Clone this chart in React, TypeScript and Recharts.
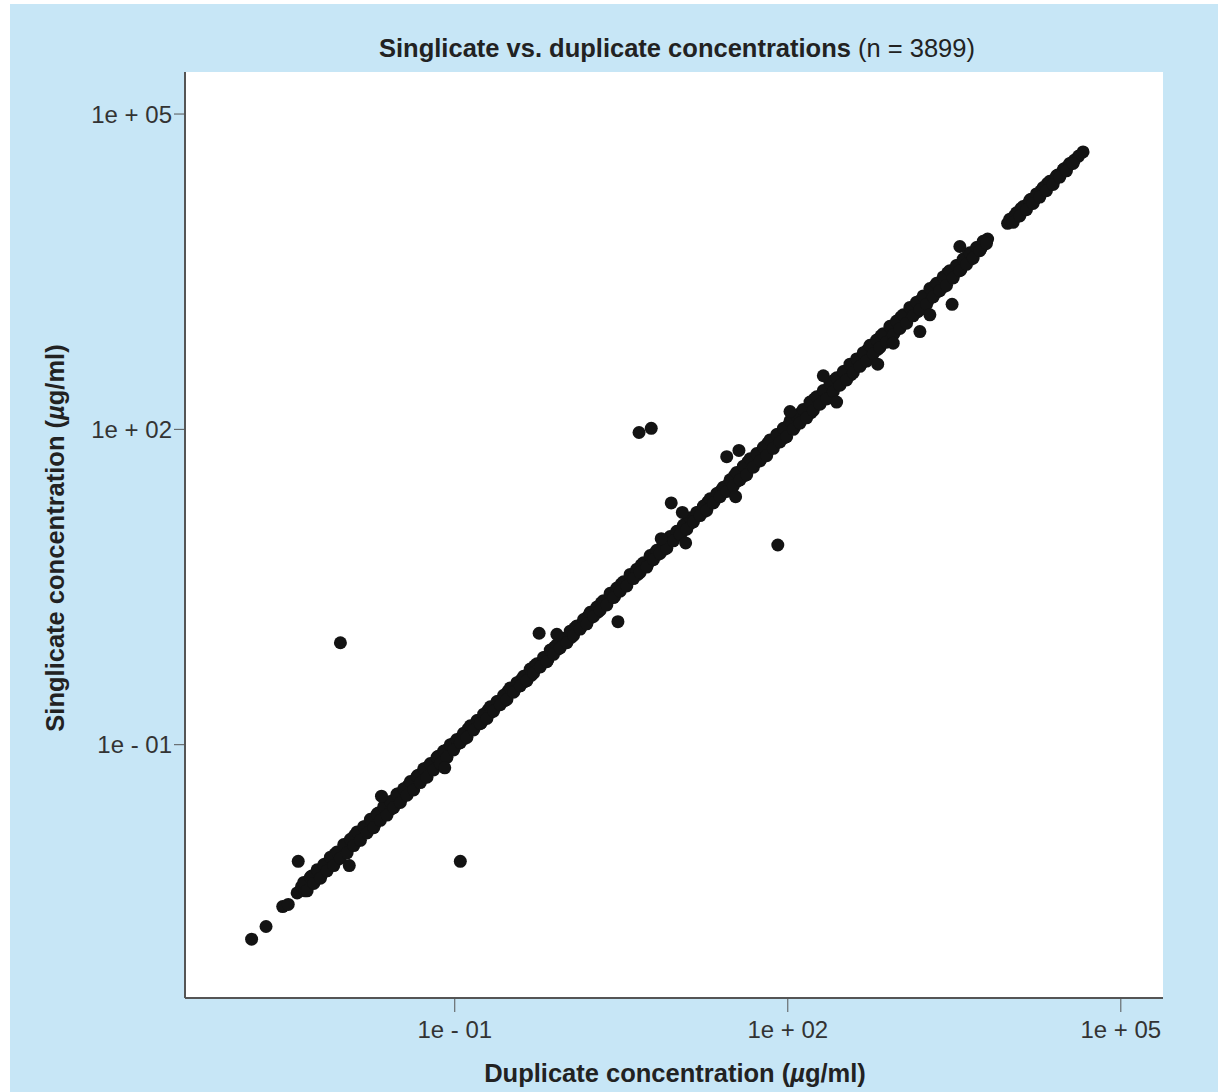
import React from 'react';
import { ScatterChart, Scatter, XAxis, YAxis, CartesianGrid } from 'recharts';

// all values are log10 of concentration (µg/ml): [duplicate, singlicate]
const lowTail: [number, number][] = [
  [-2.83, -2.85], [-2.7, -2.73], [-2.55, -2.54], [-2.5, -2.52], [-2.42, -2.41],
];

const bandLow: [number, number][] = [
  [-2.38, -2.35], [-2.35, -2.39], [-2.32, -2.31], [-2.29, -2.25], [-2.26, -2.29],
  [-2.23, -2.23], [-2.2, -2.24], [-2.17, -2.14], [-2.14, -2.12], [-2.11, -2.13],
  [-2.08, -2.04], [-2.05, -2.09], [-2.02, -2.01], [-1.99, -1.96], [-1.96, -1.99],
  [-1.93, -1.94], [-1.9, -1.86], [-1.87, -1.91], [-1.84, -1.82], [-1.81, -1.78],
  [-1.78, -1.81], [-1.75, -1.75], [-1.72, -1.76], [-1.69, -1.65], [-1.66, -1.65],
  [-1.63, -1.65], [-1.6, -1.57], [-1.57, -1.61], [-1.54, -1.52], [-1.51, -1.47],
  [-1.48, -1.51], [-1.45, -1.46], [-1.42, -1.39], [-1.39, -1.43], [-1.36, -1.35],
  [-1.33, -1.29], [-1.3, -1.32], [-1.27, -1.31], [-1.24, -1.21], [-1.21, -1.2],
  [-1.18, -1.21], [-1.15, -1.11], [-1.12, -1.13], [-1.09, -1.13], [-1.06, -1.04],
  [-1.03, -1.0],
];

const bandMid: [number, number][] = [
  [-1.0, -0.98], [-0.97, -0.99], [-0.94, -0.93], [-0.91, -0.94], [-0.88, -0.85],
  [-0.85, -0.85], [-0.82, -0.83], [-0.79, -0.77], [-0.76, -0.79], [-0.73, -0.72],
  [-0.7, -0.67], [-0.67, -0.69], [-0.64, -0.64], [-0.61, -0.59], [-0.58, -0.59],
  [-0.55, -0.58], [-0.52, -0.49], [-0.49, -0.48], [-0.46, -0.48], [-0.43, -0.41],
  [-0.4, -0.38], [-0.37, -0.4], [-0.34, -0.33], [-0.31, -0.34], [-0.28, -0.25],
  [-0.25, -0.25], [-0.22, -0.23], [-0.19, -0.17], [-0.16, -0.19], [-0.13, -0.12],
  [-0.1, -0.07], [-0.07, -0.09], [-0.04, -0.04], [-0.01, 0.01], [0.02, 0.01],
  [0.05, 0.02], [0.08, 0.11], [0.11, 0.12], [0.14, 0.12], [0.17, 0.19],
  [0.2, 0.22], [0.23, 0.21], [0.26, 0.27], [0.29, 0.26], [0.32, 0.35],
  [0.35, 0.35], [0.38, 0.37], [0.41, 0.43], [0.44, 0.41], [0.47, 0.48],
  [0.5, 0.53], [0.53, 0.51], [0.56, 0.56], [0.59, 0.61], [0.62, 0.61],
  [0.65, 0.62], [0.68, 0.71], [0.71, 0.72], [0.74, 0.72], [0.77, 0.79],
  [0.8, 0.82], [0.83, 0.81], [0.86, 0.87], [0.89, 0.86], [0.92, 0.95],
  [0.95, 0.95], [0.98, 0.97], [1.01, 1.03], [1.04, 1.01], [1.07, 1.08],
  [1.1, 1.13], [1.13, 1.11], [1.16, 1.16], [1.19, 1.21], [1.22, 1.21],
  [1.25, 1.22], [1.28, 1.31], [1.31, 1.32], [1.34, 1.32], [1.37, 1.39],
  [1.4, 1.42], [1.43, 1.41], [1.46, 1.47], [1.49, 1.46],
];

const bandHigh: [number, number][] = [
  [1.52, 1.56], [1.55, 1.51], [1.58, 1.59], [1.61, 1.56], [1.64, 1.69],
  [1.67, 1.67], [1.7, 1.68], [1.73, 1.76], [1.76, 1.72], [1.79, 1.81],
  [1.82, 1.87], [1.85, 1.82], [1.88, 1.88], [1.91, 1.95], [1.94, 1.92],
  [1.97, 1.92], [2.0, 2.03], [2.03, 2.04], [2.06, 2.02], [2.09, 2.13],
  [2.12, 2.16], [2.15, 2.11], [2.18, 2.19], [2.21, 2.16], [2.24, 2.29],
  [2.27, 2.27], [2.3, 2.28], [2.33, 2.36], [2.36, 2.32], [2.39, 2.41],
  [2.42, 2.47], [2.45, 2.42], [2.48, 2.48], [2.51, 2.55], [2.54, 2.52],
  [2.57, 2.52], [2.6, 2.63], [2.63, 2.64], [2.66, 2.62], [2.69, 2.73],
  [2.72, 2.76], [2.75, 2.71], [2.78, 2.79], [2.81, 2.76], [2.84, 2.89],
  [2.87, 2.87], [2.9, 2.88], [2.93, 2.96], [2.96, 2.92], [2.99, 3.01],
  [3.02, 3.07], [3.05, 3.02], [3.08, 3.08], [3.11, 3.15], [3.14, 3.12],
  [3.17, 3.12], [3.2, 3.23], [3.23, 3.24], [3.26, 3.22], [3.29, 3.33],
  [3.32, 3.36], [3.35, 3.31], [3.38, 3.39], [3.41, 3.36], [3.44, 3.49],
  [3.47, 3.47], [3.5, 3.48], [3.53, 3.56], [3.56, 3.52], [3.59, 3.61],
  [3.62, 3.65], [3.65, 3.62], [3.68, 3.68], [3.71, 3.73], [3.74, 3.72],
  [3.77, 3.76], [3.8, 3.81],
];

const bandTop: [number, number][] = [
  [3.98, 3.96], [4.01, 3.98], [4.04, 4.03], [4.07, 4.03], [4.1, 4.1],
  [4.13, 4.1], [4.16, 4.14], [4.19, 4.19], [4.22, 4.18], [4.25, 4.24],
  [4.28, 4.27], [4.31, 4.27], [4.34, 4.34], [4.37, 4.35], [4.4, 4.37],
  [4.43, 4.42], [4.46, 4.43], [4.49, 4.48], [4.52, 4.5], [4.55, 4.53],
  [4.58, 4.56], [4.62, 4.6], [4.66, 4.64],
];

// points on the upper-left and lower-right edges of the dense band
const edgeAbove: [number, number][] = [
  [-2.36, -2.31], [-2.3, -2.26], [-2.24, -2.19], [-2.18, -2.14], [-2.12, -2.07],
  [-2.06, -2.02], [-2.0, -1.95], [-1.94, -1.9], [-1.88, -1.83], [-1.82, -1.78],
  [-1.76, -1.71], [-1.7, -1.66], [-1.64, -1.59], [-1.58, -1.54], [-1.52, -1.47],
  [-1.46, -1.42], [-1.4, -1.35], [-1.34, -1.3], [-1.28, -1.23], [-1.22, -1.18],
  [-1.16, -1.12], [-1.1, -1.06], [-1.04, -1.0], [-0.98, -0.95], [-0.92, -0.89],
  [-0.86, -0.82], [-0.8, -0.77], [-0.74, -0.71], [-0.68, -0.64], [-0.62, -0.59],
  [-0.56, -0.53], [-0.5, -0.46], [-0.44, -0.41], [-0.38, -0.35], [-0.32, -0.28],
  [-0.26, -0.23], [-0.2, -0.17], [-0.14, -0.1], [-0.08, -0.05], [-0.02, 0.01],
  [0.04, 0.08], [0.1, 0.13], [0.16, 0.19], [0.22, 0.26], [0.28, 0.31],
  [0.34, 0.37], [0.4, 0.44], [0.46, 0.49], [0.52, 0.55], [0.58, 0.62],
  [0.64, 0.67], [0.7, 0.73], [0.76, 0.8], [0.82, 0.85], [0.88, 0.91],
  [0.94, 0.98], [1.0, 1.03], [1.06, 1.09], [1.12, 1.16], [1.18, 1.21],
  [1.24, 1.27], [1.3, 1.34], [1.36, 1.39], [1.42, 1.45], [1.48, 1.52],
  [1.54, 1.59], [1.6, 1.65], [1.66, 1.72], [1.72, 1.77], [1.78, 1.83],
  [1.84, 1.9], [1.9, 1.95], [1.96, 2.01], [2.02, 2.08], [2.08, 2.13],
  [2.14, 2.19], [2.2, 2.26], [2.26, 2.31], [2.32, 2.37], [2.38, 2.44],
  [2.44, 2.49], [2.5, 2.55], [2.56, 2.62], [2.62, 2.67], [2.68, 2.73],
  [2.74, 2.8], [2.8, 2.85], [2.86, 2.91], [2.92, 2.98], [2.98, 3.03],
  [3.04, 3.09], [3.1, 3.16], [3.16, 3.21], [3.22, 3.27], [3.28, 3.34],
  [3.34, 3.39], [3.4, 3.45], [3.46, 3.51], [3.52, 3.56], [3.58, 3.62],
  [3.64, 3.68], [3.7, 3.73], [3.76, 3.79], [4.0, 4.0], [4.06, 4.06],
  [4.12, 4.12], [4.18, 4.18], [4.24, 4.24], [4.3, 4.3], [4.36, 4.36],
  [4.42, 4.41], [4.48, 4.47], [4.54, 4.53],
];

const edgeBelow: [number, number][] = [
  [-2.33, -2.39], [-2.27, -2.32], [-2.21, -2.27], [-2.15, -2.2], [-2.09, -2.15],
  [-2.03, -2.08], [-1.97, -2.03], [-1.91, -1.96], [-1.85, -1.91], [-1.79, -1.84],
  [-1.73, -1.79], [-1.67, -1.72], [-1.61, -1.67], [-1.55, -1.6], [-1.49, -1.55],
  [-1.43, -1.48], [-1.37, -1.43], [-1.31, -1.36], [-1.25, -1.31], [-1.19, -1.24],
  [-1.13, -1.18], [-1.07, -1.12], [-1.01, -1.05], [-0.95, -0.98], [-0.89, -0.93],
  [-0.83, -0.86], [-0.77, -0.8], [-0.71, -0.75], [-0.65, -0.68], [-0.59, -0.62],
  [-0.53, -0.57], [-0.47, -0.5], [-0.41, -0.44], [-0.35, -0.39], [-0.29, -0.32],
  [-0.23, -0.26], [-0.17, -0.21], [-0.11, -0.14], [-0.05, -0.08], [0.01, -0.03],
  [0.07, 0.04], [0.13, 0.1], [0.19, 0.15], [0.25, 0.22], [0.31, 0.28],
  [0.37, 0.33], [0.43, 0.4], [0.49, 0.46], [0.55, 0.51], [0.61, 0.58],
  [0.67, 0.64], [0.73, 0.69], [0.79, 0.76], [0.85, 0.82], [0.91, 0.87],
  [0.97, 0.94], [1.03, 1.0], [1.09, 1.05], [1.15, 1.12], [1.21, 1.18],
  [1.27, 1.23], [1.33, 1.3], [1.39, 1.36], [1.45, 1.41], [1.51, 1.46],
  [1.57, 1.52], [1.63, 1.57], [1.69, 1.64], [1.75, 1.7], [1.81, 1.75],
  [1.87, 1.82], [1.93, 1.88], [1.99, 1.93], [2.05, 2.0], [2.11, 2.06],
  [2.17, 2.11], [2.23, 2.18], [2.29, 2.24], [2.35, 2.29], [2.41, 2.36],
  [2.47, 2.42], [2.53, 2.47], [2.59, 2.54], [2.65, 2.6], [2.71, 2.65],
  [2.77, 2.72], [2.83, 2.78], [2.89, 2.83], [2.95, 2.9], [3.01, 2.96],
  [3.07, 3.01], [3.13, 3.08], [3.19, 3.14], [3.25, 3.19], [3.31, 3.26],
  [3.37, 3.32], [3.43, 3.37], [3.49, 3.44], [3.55, 3.51], [3.61, 3.57],
  [3.67, 3.63], [3.73, 3.7], [3.79, 3.77], [4.03, 3.97], [4.09, 4.03],
  [4.15, 4.09], [4.21, 4.15], [4.27, 4.21], [4.33, 4.27], [4.39, 4.33],
  [4.45, 4.4], [4.51, 4.46], [4.57, 4.53],
];

const outliers: [number, number][] = [
  [-2.41, -2.11], [-1.95, -2.15], [-0.95, -2.11], [-1.66, -1.49], [-2.03, -0.03],
  [-1.09, -1.22], [-0.24, 0.06], [-0.08, 0.05], [0.47, 0.17], [0.66, 1.97],
  [0.77, 2.01], [1.45, 1.74], [1.56, 1.8], [0.95, 1.3], [1.05, 1.21],
  [1.08, 0.92], [1.91, 0.9], [1.53, 1.36], [0.86, 0.96], [2.02, 2.17],
  [2.32, 2.51], [2.44, 2.26], [2.81, 2.62], [2.95, 2.82], [3.19, 2.93],
  [3.28, 3.09], [3.48, 3.19], [3.55, 3.74],
];

const xTicks = [0.1, 100, 100000];
const yTicks = [0.1, 100, 100000];
const xDomainLog = [-3.43, 5.38];
const yDomainLog = [-3.41, 5.4];

const points = [
  ...lowTail, ...bandLow, ...bandMid, ...bandHigh, ...bandTop,
  ...edgeAbove, ...edgeBelow, ...outliers,
].map(([d, s]) => ({ x: 10 ** d, y: 10 ** s }));

const fmtTick = (v: number) => {
  const e = Math.round(Math.log10(v));
  return `1e ${e < 0 ? '-' : '+'} ${String(Math.abs(e)).padStart(2, '0')}`;
};

const Dot = (props: any) => <circle cx={props.cx} cy={props.cy} r={6.5} fill="#131313" />;

const FONT = '"Liberation Sans", Arial, Helvetica, sans-serif';

export default function App() {
  return (
    <div
      style={{
        position: 'absolute',
        left: 10,
        top: 4,
        width: 1208,
        height: 1088,
        background: '#c7e6f6',
        fontFamily: FONT,
        color: '#222',
      }}
    >
      <div
        style={{
          position: 'absolute',
          left: 178,
          top: 29,
          width: 978,
          textAlign: 'center',
          fontSize: 25.5,
          lineHeight: '30px',
        }}
      >
        <b>Singlicate vs. duplicate concentrations</b> (n = 3899)
      </div>

      <ScatterChart width={1208} height={1088} margin={{ top: 68, right: 55, left: 0, bottom: 0 }}>
        <CartesianGrid horizontal={false} vertical={false} fill="#fff" />
        <XAxis
          dataKey="x"
          type="number"
          scale="log"
          domain={[10 ** xDomainLog[0], 10 ** xDomainLog[1]]}
          allowDataOverflow
          ticks={xTicks}
          tickFormatter={fmtTick}
          height={94}
          tickSize={14}
          tickMargin={9}
          axisLine={{ stroke: '#555', strokeWidth: 2 }}
          tickLine={{ stroke: '#555', strokeWidth: 1 }}
          tick={{ fill: '#333', fontSize: 24, fontFamily: FONT }}
        />
        <YAxis
          dataKey="y"
          type="number"
          scale="log"
          domain={[10 ** yDomainLog[0], 10 ** yDomainLog[1]]}
          allowDataOverflow
          ticks={yTicks}
          tickFormatter={fmtTick}
          width={175}
          tickSize={11}
          tickMargin={2}
          axisLine={{ stroke: '#555', strokeWidth: 2 }}
          tickLine={{ stroke: '#555', strokeWidth: 1 }}
          tick={{ fill: '#333', fontSize: 24, fontFamily: FONT }}
        />
        <Scatter data={points} shape={Dot} isAnimationActive={false} />
      </ScatterChart>

      <div
        style={{
          position: 'absolute',
          left: 176,
          top: 1054,
          width: 978,
          textAlign: 'center',
          fontSize: 25.5,
          fontWeight: 'bold',
          lineHeight: '30px',
        }}
      >
        Duplicate concentration (<i>µ</i>g/ml)
      </div>
      <div
        style={{
          position: 'absolute',
          left: -205,
          top: 519,
          width: 500,
          textAlign: 'center',
          fontSize: 25.5,
          fontWeight: 'bold',
          lineHeight: '30px',
          transform: 'rotate(-90deg)',
        }}
      >
        Singlicate concentration (<i>µ</i>g/ml)
      </div>
    </div>
  );
}
